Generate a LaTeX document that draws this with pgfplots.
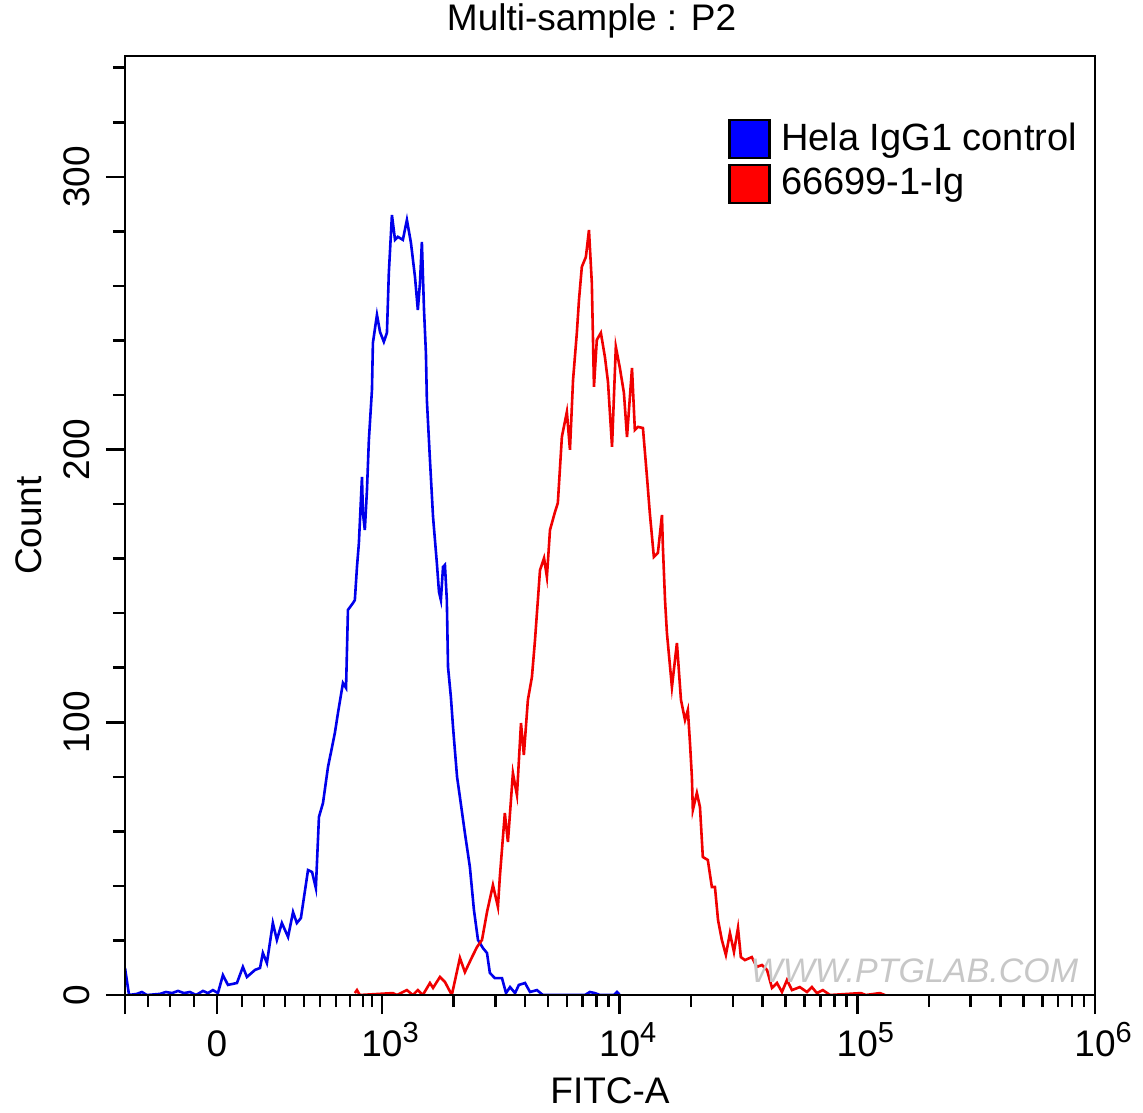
\documentclass[border=0pt]{standalone}
\usepackage{fontspec}
\setmainfont{Liberation Sans}
\usepackage{pgfplots}
\pgfplotsset{compat=1.18}
\definecolor{ctrlblue}{RGB}{0,0,235}
\definecolor{abred}{RGB}{240,0,0}
\newcommand\sups[1]{\raisebox{7pt}{\fontsize{14.5}{14.5}\selectfont #1}}
\begin{document}
\fontsize{18.5}{22}\selectfont
\begin{tikzpicture}
\useasboundingbox (-62.5pt,-58.5pt) rectangle (509pt,497.5pt);
\begin{axis}[
  scale only axis, width=485pt, height=469.5pt,
  at={(0,0)}, anchor=south west,
  xmin=1.919, xmax=6, ymin=0, ymax=344.3,
  axis on top,
  axis line style={line width=1.35pt},
  every tick/.style={black, line width=1.3pt},
  tick align=outside,
  major tick length=9.5pt, minor tick length=6pt,
  xtick pos=bottom, ytick pos=left,
  xtick={1.919,2.306,3,4,5,6},
  xticklabels={,0,10\rlap{\sups{3}},10\rlap{\sups{4}},10\rlap{\sups{5}},10\rlap{\sups{6}}},
  minor xtick={2.016,2.108,2.209,2.411,2.504,2.592,2.672,2.739,2.806,2.865,2.920,2.958,
    3.301,3.477,3.602,3.699,3.778,3.845,3.903,3.954,
    4.301,4.477,4.602,4.699,4.778,4.845,4.903,4.954,
    5.301,5.477,5.602,5.699,5.778,5.845,5.903,5.954},
  ytick={0,100,200,300},
  minor ytick={20,40,60,80,120,140,160,180,220,240,260,280,320,340},
  /pgf/number format/assume math mode=true,
  xticklabel style={anchor=base},
  xticklabel shift=21pt,
  yticklabel style={rotate=90, anchor=base},
  yticklabel shift=8pt,
  title={Multi-sample : P2},
  every axis title/.style={at={(rel axis cs:0.481,1)}, anchor=base, yshift=12.5pt},
  xlabel={FITC-A},
  xlabel style={at={([yshift=-54pt]rel axis cs:0.5,0)}, anchor=base},
  ylabel={Count},
  ylabel style={at={([xshift=-41.5pt]rel axis cs:0,0.5)}, anchor=base},
  legend style={at={(rel axis cs:0.615,0.938)}, anchor=north west,
    draw=none, fill=none, row sep=2pt,
    font=\fontsize{19}{22}\selectfont},
  legend cell align=left,
]

% Hela IgG1 control (isotype)
\addplot[ctrlblue, line width=1.3pt,
  legend image code/.code={\draw[draw=black, line width=1.3pt, fill=blue] (0pt,-9.5pt) rectangle (20pt,9.5pt); \path[draw=none] (0pt,0pt) -- (24pt,0pt);}]
  coordinates {
  (1.919,9.9) (1.936,0) (1.969,0.4) (1.990,1.1) (2.011,0) (2.066,0.4) (2.091,1.1)
  (2.117,0.7) (2.142,1.5) (2.167,0.7) (2.192,1.1) (2.218,0) (2.247,1.5) (2.268,0.7)
  (2.289,1.8) (2.310,0.7) (2.331,7.3) (2.352,3.7) (2.390,4.4) (2.415,10.3) (2.432,6.6)
  (2.466,9.2) (2.487,9.9) (2.499,15.4) (2.516,11.7) (2.541,26.4) (2.558,20.2) (2.579,26.4)
  (2.605,21.3) (2.626,30.4) (2.642,26.4) (2.659,28.2) (2.689,45.8) (2.706,45.1) (2.722,39.2)
  (2.735,65.3) (2.752,70.4) (2.773,83.6) (2.790,90.9) (2.802,96.1) (2.815,103.4) (2.836,114.4)
  (2.849,112.6) (2.857,141.2) (2.878,143.7) (2.886,144.8) (2.895,157.0) (2.903,165.7)
  (2.916,190.0) (2.920,176.7) (2.928,170.5) (2.937,185.2) (2.945,203.5) (2.958,221.9)
  (2.962,239.1) (2.979,249.4) (2.992,243.1) (3.008,239.5) (3.021,242.8) (3.029,264.8)
  (3.042,286.0) (3.055,276.9) (3.067,278.0) (3.088,276.9) (3.105,284.2) (3.122,275.8)
  (3.139,263.3) (3.151,251.2) (3.160,261.1) (3.168,276.1) (3.177,251.2) (3.185,235.4)
  (3.189,218.2) (3.202,196.2) (3.215,175.3) (3.231,158.4) (3.240,147.8) (3.248,144.8)
  (3.257,157.0) (3.265,157.7) (3.273,144.8) (3.278,120.3) (3.290,109.3) (3.299,98.3)
  (3.316,80.0) (3.328,72.6) (3.349,59.4) (3.370,46.9) (3.387,31.2) (3.404,20.2)
  (3.425,17.2) (3.442,15.4) (3.454,8.1) (3.475,6.2) (3.505,6.2) (3.522,0.7) (3.539,2.9)
  (3.560,0.7) (3.576,3.7) (3.602,4.4) (3.623,1.1) (3.652,1.8) (3.677,0) (3.854,0)
  (3.875,1.1) (3.896,0.7) (3.917,0) (3.976,0) (3.989,1.1) (4.001,0)
  };
\addlegendentry{Hela IgG1 control}

% 66699-1-Ig
\addplot[abred, line width=1.3pt,
  legend image code/.code={\draw[draw=black, line width=1.3pt, fill=red] (0pt,-9.5pt) rectangle (20pt,9.5pt); \path[draw=none] (0pt,0pt) -- (24pt,0pt);}]
  coordinates {
  (2.886,0.7) (2.895,1.8) (2.907,0) (3.046,0.7) (3.063,0) (3.105,1.8) (3.130,0)
  (3.151,1.8) (3.172,0) (3.202,4.4) (3.215,2.6) (3.244,6.6) (3.265,4.8) (3.294,0)
  (3.328,13.6) (3.349,8.4) (3.379,13.9) (3.400,17.6) (3.421,20.2) (3.442,30.4)
  (3.467,40.3) (3.488,32.3) (3.496,43.3) (3.517,66.7) (3.530,56.1) (3.551,81.4)
  (3.568,73.3) (3.585,99.7) (3.597,88.0) (3.614,108.2) (3.631,116.6) (3.644,130.2)
  (3.656,144.8) (3.665,155.8) (3.682,160.2) (3.694,153.3) (3.707,170.5) (3.728,177.1)
  (3.740,180.4) (3.757,204.6) (3.778,213.8) (3.791,199.9) (3.804,225.5) (3.820,242.8)
  (3.829,254.9) (3.841,267.0) (3.858,270.6) (3.871,280.5) (3.883,261.1) (3.892,223.0)
  (3.904,240.2) (3.921,242.8) (3.938,234.0) (3.951,224.8) (3.968,201.0) (3.984,237.7)
  (4.001,229.9) (4.018,220.8) (4.031,204.6) (4.052,229.9) (4.064,207.2) (4.077,208.3)
  (4.098,207.9) (4.115,190.0) (4.127,176.7) (4.144,160.6) (4.161,162.1) (4.178,176.0)
  (4.182,164.3) (4.191,144.8) (4.199,132.7) (4.220,112.9) (4.241,129.1) (4.258,108.2)
  (4.275,100.8) (4.287,104.5) (4.296,92.4) (4.304,79.9) (4.308,67.8) (4.325,74.1)
  (4.338,68.9) (4.350,50.6) (4.371,49.5) (4.388,39.6) (4.401,39.6) (4.414,27.5)
  (4.430,20.2) (4.447,14.7) (4.464,22.7) (4.481,15.8) (4.498,24.6) (4.510,13.9)
  (4.527,12.8) (4.556,13.9) (4.577,10.3) (4.599,11.0) (4.620,9.2) (4.641,2.6)
  (4.662,4.4) (4.683,1.1) (4.704,5.5) (4.725,1.8) (4.758,2.9) (4.788,1.1) (4.809,2.9)
  (4.830,0.7) (4.855,1.8) (4.885,0) (5.015,0.7) (5.036,0) (5.095,0.7) (5.116,0)
  };
\addlegendentry{66699-1-Ig}

\node[text=black!22, font=\fontsize{17}{17}\selectfont\itshape] at (axis cs:5.24,8.8) {WWW.PTGLAB.COM};
\end{axis}
\end{tikzpicture}
\end{document}
